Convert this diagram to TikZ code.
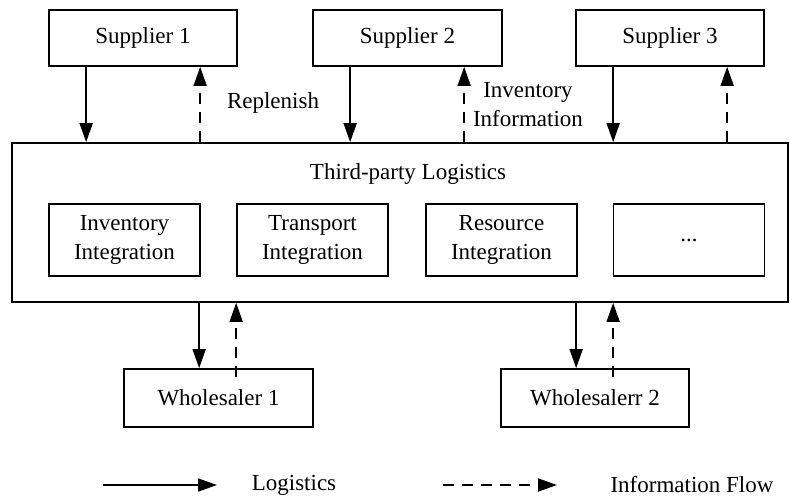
\documentclass[tikz,border=0pt]{standalone}
\usepackage{fontspec}
\setmainfont{Liberation Serif}
\usetikzlibrary{arrows.meta}
\begin{document}
\begin{tikzpicture}[x=1pt,y=-1pt,
  font=\fontsize{23}{29}\selectfont,
  box/.style={draw,line width=1.7pt,minimum height=56pt,inner sep=0pt,align=center},
  inbox/.style={draw,line width=1.7pt,minimum width=151pt,minimum height=72pt,inner sep=0pt,align=center},
  sol/.style={line width=1.7pt,-{Triangle[length=19pt,width=13pt]}},
  das/.style={line width=1.7pt,dash pattern=on 11pt off 8pt,-{Triangle[length=19pt,width=13pt]}},
  lbl/.style={inner sep=0pt,align=center}]
\useasboundingbox (0,0) rectangle (790,499);
\node[box,minimum width=188pt] (s1) at (143,38) {Supplier 1};
\node[box,minimum width=189pt] (s2) at (407.5,38) {Supplier 2};
\node[box,minimum width=188pt] (s3) at (670,38) {Supplier 3};
\node[draw,line width=1.7pt,minimum width=776pt,minimum height=159pt,inner sep=0pt] (tpl) at (400,222.5) {};
\node[lbl] (tpltxt) at (408,174) {Third-party Logistics};
\node[inbox] (i1) at (124.5,240) {Inventory\\Integration};
\node[inbox] (i2) at (312.5,240) {Transport\\Integration};
\node[inbox] (i3) at (501.5,240) {Resource\\Integration};
\node[inbox] (i4) at (689,240) {...};
\node[box,minimum width=189pt,minimum height=58pt] (w1) at (218.5,398) {Wholesaler 1};
\node[box,minimum width=188pt,minimum height=58pt] (w2) at (595,398) {Wholesalerr 2};
\node[lbl] (rep) at (273,103) {Replenish};
\node[lbl] (invinfo) at (528,104.5) {Inventory\\Information};
% supplier arrows
\foreach \s in {s1,s2,s3}{
  \draw[sol] ([xshift=38pt]\s.south west) -- ([xshift=38pt]\s.south west |- tpl.north);
  \draw[das] ([xshift=152pt]\s.south west |- tpl.north) -- ([xshift=152pt]\s.south west);
}
% wholesaler arrows
\foreach \w in {w1,w2}{
  \draw[sol] ([xshift=76pt]\w.north west |- tpl.south) -- ([xshift=76pt]\w.north west);
  \draw[das] ([xshift=113pt,yshift=-9pt]\w.north west) -- ([xshift=113pt]\w.north west |- tpl.south);
}
% legend
\coordinate (la) at (103,485);
\coordinate (lb) at (217,485);
\coordinate (lc) at (443,485);
\coordinate (ld) at (557,485);
\draw[sol] (la) -- (lb);
\draw[das] (lc) -- (ld);
\node[lbl] (ltxt1) at (294,485) {Logistics};
\node[lbl] (ltxt2) at (692,485) {Information Flow};
\end{tikzpicture}
\end{document}
